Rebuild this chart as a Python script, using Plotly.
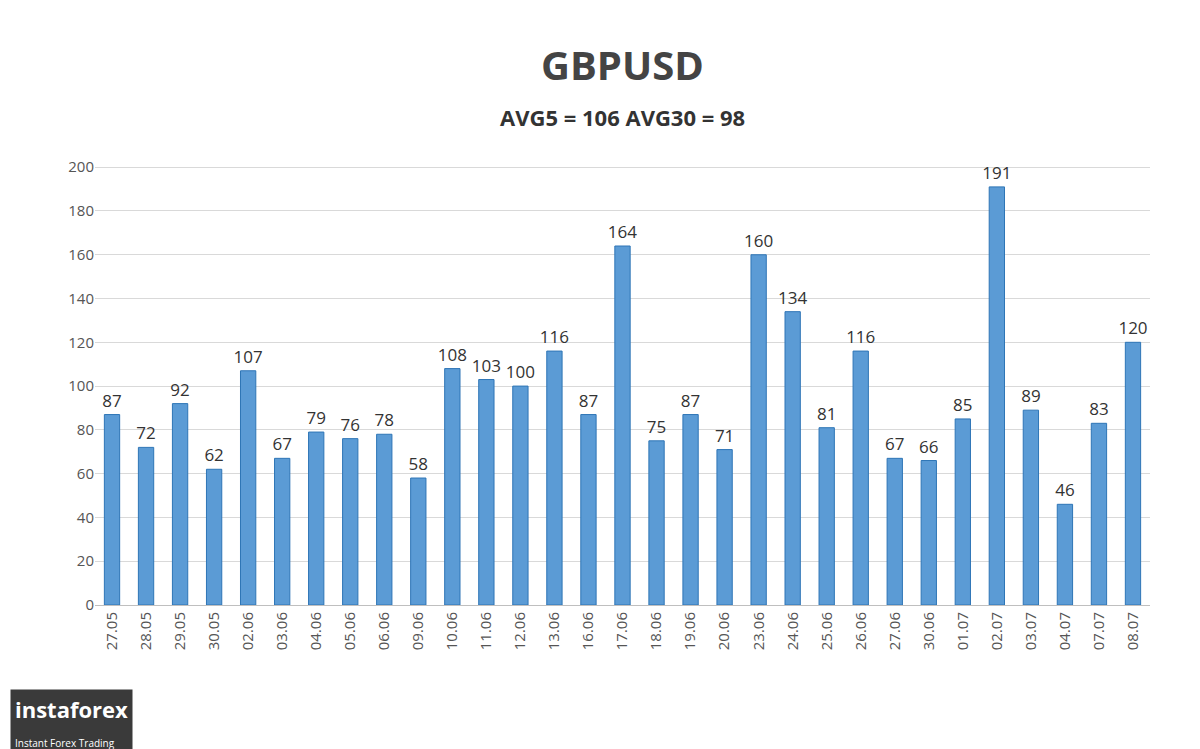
import plotly.graph_objects as go

dates = ["27.05","28.05","29.05","30.05","02.06","03.06","04.06","05.06","06.06","09.06",
         "10.06","11.06","12.06","13.06","16.06","17.06","18.06","19.06","20.06","23.06",
         "24.06","25.06","26.06","27.06","30.06","01.07","02.07","03.07","04.07","07.07","08.07"]
values = [87,72,92,62,107,67,79,76,78,58,108,103,100,116,87,164,75,87,71,160,
          134,81,116,67,66,85,191,89,46,83,120]
yticks = [0,20,40,60,80,100,120,140,160,180,200]

L, R, T, B = 87, 58, 157, 152
fig = go.Figure(go.Bar(
    x=dates, y=values, text=[str(v) for v in values], textposition="outside",
    constraintext="none",
    textfont=dict(size=17, color="#333333", family="Open Sans"),
    marker=dict(color="#5b9bd5", line=dict(color="#2e75b6", width=1)),
    width=0.45, cliponaxis=False))

fig.update_layout(
    width=1200, height=749, paper_bgcolor="white", plot_bgcolor="white",
    margin=dict(l=L, r=R, t=T, b=B),
    showlegend=False, bargap=0.5, uniformtext=dict(minsize=17, mode="show"),
    xaxis=dict(tickangle=-90, tickfont=dict(size=15, color="#555555", family="Open Sans"),
               showline=True, linecolor="#bfbfbf", ticks=""),
    yaxis=dict(range=[0, 201], tickvals=yticks, showgrid=True, gridcolor="#d9d9d9",
               tickfont=dict(size=15, color="#555555", family="Open Sans"), zeroline=False))

ph = 749 - T - B
pw = 1200 - L - R
fig.add_annotation(text="<b>GBPUSD</b>", x=0.5, xref="paper", yref="paper",
                   y=1 + (T - 57) / ph, yanchor="middle", showarrow=False,
                   font=dict(size=40, color="#444444", family="Open Sans"))
fig.add_annotation(text="<b>AVG5 = 106 AVG30 = 98</b>", x=0.5, xref="paper", yref="paper",
                   y=1 + (T - 109) / ph, yanchor="middle", showarrow=False,
                   font=dict(size=22, color="#333333", family="Open Sans"))
fig.add_annotation(text="<b>instaforex</b><br><span style='font-size:10px'>Instant Forex Trading</span>",
                   xref="paper", yref="paper", x=-(L - 2) / pw, y=-(B - 2) / ph,
                   xanchor="left", yanchor="bottom", showarrow=False, align="left",
                   bgcolor="#3a3a3a", font=dict(size=22, color="white", family="Open Sans"),
                   borderpad=4)
fig.write_html("out.html")
